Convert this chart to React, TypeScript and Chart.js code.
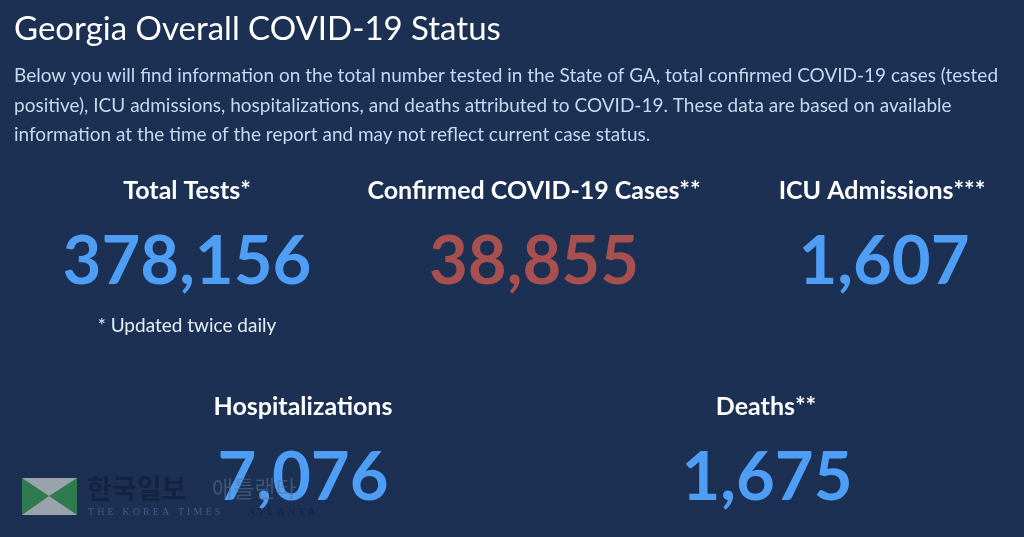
import React, { useEffect, useRef } from "react";
import { Chart, registerables } from "chart.js";

Chart.register(...registerables);

const pageTitle = "Georgia Overall COVID-19 Status";
const introLines = [
  "Below you will find information on the total number tested in the State of GA, total confirmed COVID-19 cases (tested",
  "positive), ICU admissions, hospitalizations, and deaths attributed to COVID-19. These data are based on available",
  "information at the time of the report and may not reflect current case status.",
];
const metricLabels = ["Total Tests*", "Confirmed COVID-19 Cases**", "ICU Admissions***", "Hospitalizations", "Deaths**"];
const metricValues = [378156, 38855, 1607, 7076, 1675];
const metricColors = ["#4f9ef5", "#a8504f", "#4f9ef5", "#4f9ef5", "#4f9ef5"];
const footnote = "* Updated twice daily";

const labelCenters = [187, 534, 882, 303, 766];
const valueCenters = [187, 534, 884, 303, 767];
const labelBaselines = [199, 199, 199, 415, 415];
const valueBaselines = [284, 284, 284, 500, 500];

const font = (weight: number, size: number, family = "Lato") => `${weight} ${size}px ${family}, sans-serif`;

const kpiPlugin = {
  id: "kpiText",
  afterDraw(chart: any) {
    const ctx = chart.ctx as CanvasRenderingContext2D;
    ctx.save();
    ctx.textBaseline = "alphabetic";
    ctx.textAlign = "left";
    ctx.fillStyle = "#ffffff";
    ctx.font = font(400, 33);
    ctx.fillText(pageTitle, 14, 40);
    ctx.fillStyle = "#c6d9f0";
    ctx.font = font(400, 19);
    introLines.forEach((l, i) => ctx.fillText(l, 14, 82 + i * 29.5));

    ctx.textAlign = "center";
    metricLabels.forEach((l, i) => {
      ctx.fillStyle = "#ffffff";
      ctx.font = font(700, 25);
      ctx.fillText(l, labelCenters[i], labelBaselines[i]);
      ctx.fillStyle = metricColors[i];
      ctx.font = font(700, 67);
      ctx.fillText(metricValues[i].toLocaleString("en-US"), valueCenters[i], valueBaselines[i]);
    });
    ctx.fillStyle = "#e6eef8";
    ctx.font = font(400, 19);
    ctx.fillText(footnote, 187, 332);

    // watermark logo
    ctx.fillStyle = "#9aa3ab";
    ctx.fillRect(22, 478, 55, 37);
    ctx.fillStyle = "#2f7a4f";
    ctx.beginPath();
    ctx.moveTo(22, 478); ctx.lineTo(49, 496); ctx.lineTo(22, 515); ctx.closePath();
    ctx.moveTo(77, 478); ctx.lineTo(49, 496); ctx.lineTo(77, 515); ctx.closePath();
    ctx.fill();

    ctx.textAlign = "left";
    ctx.fillStyle = "#14233f";
    ctx.font = font(700, 27, "'Noto Sans CJK KR'");
    ctx.fillText("한국일보", 87, 499);
    ctx.fillStyle = "rgba(90,115,150,0.55)";
    ctx.font = font(400, 23, "'Noto Sans CJK KR'");
    ctx.fillText("애틀랜타", 212, 497);
    ctx.fillStyle = "rgba(85,105,135,0.75)";
    ctx.font = font(400, 10, "'Liberation Serif'");
    (ctx as any).letterSpacing = "3.1px";
    ctx.fillText("THE KOREA TIMES", 88, 515);
    ctx.fillStyle = "#14233f";
    (ctx as any).letterSpacing = "3.6px";
    ctx.fillText("ATLANTA", 248, 515);
    ctx.restore();
  },
};

export default function App() {
  const ref = useRef<HTMLCanvasElement>(null);
  useEffect(() => {
    document.body.style.margin = "0";
    document.body.style.background = "#1b3053";
    const chart = new Chart(ref.current!, {
      type: "bar",
      data: { labels: metricLabels, datasets: [{ data: metricValues, backgroundColor: "rgba(0,0,0,0)" }] },
      options: {
        animation: false,
        responsive: false,
        plugins: { legend: { display: false }, tooltip: { enabled: false }, title: { display: false } },
        scales: { x: { display: false }, y: { display: false } },
      },
      plugins: [
        {
          id: "bg",
          beforeDraw(c: any) {
            c.ctx.save();
            c.ctx.fillStyle = "#1b3053";
            c.ctx.fillRect(0, 0, c.width, c.height);
            c.ctx.restore();
          },
        },
        kpiPlugin,
      ],
    });
    return () => chart.destroy();
  }, []);
  return <canvas ref={ref} width={1024} height={537} style={{ display: "block", width: 1024, height: 537 }} />;
}
